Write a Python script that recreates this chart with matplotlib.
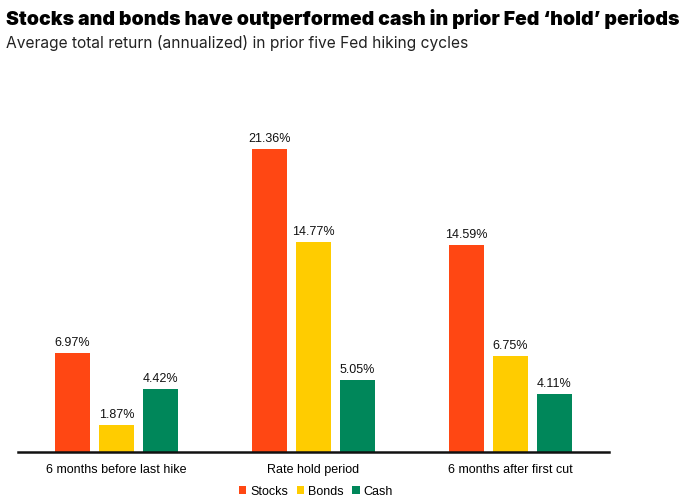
import matplotlib
matplotlib.use("Agg")
import matplotlib.pyplot as plt
import numpy as np

# chart data
periods = ["6 months before last hike", "Rate hold period", "6 months after first cut"]
series_names = ["Stocks", "Bonds", "Cash"]
stocks = [6.97, 21.36, 14.59]
bonds = [1.87, 14.77, 6.75]
cash = [4.42, 5.05, 4.11]
colors = ["#FF4713", "#FFCC00", "#00875A"]

plt.rcParams['font.family'] = ['Liberation Sans', 'DejaVu Sans']

fig = plt.figure(figsize=(6.98, 5.02), dpi=100)
ax = fig.add_axes([0.0258, 0.0976, 0.8467, 0.7824])

x = np.arange(len(periods))
width = 0.177
offset = 0.223

for i, (name, vals) in enumerate(zip(series_names, [stocks, bonds, cash])):
    bars = ax.bar(x + (i - 1) * offset, vals, width, color=colors[i], label=name)
    # value labels above each bar
    for b, v in zip(bars, vals):
        ax.text(b.get_x() + b.get_width() / 2, v + 0.35, f"{v:.2f}%",
                ha="center", va="bottom", fontsize=9, color="#111111")

ax.set_xlim(-0.5, 2.5)
ax.set_ylim(0, 27.65)
ax.set_xticks(x)
ax.set_xticklabels(periods, fontsize=9)
ax.tick_params(axis="x", length=0, pad=8)
ax.set_yticks([])
for side in ["top", "right", "left"]:
    ax.spines[side].set_visible(False)
ax.spines["bottom"].set_linewidth(1.8)
ax.spines["bottom"].set_color("#111111")

ax.legend(loc="center", bbox_to_anchor=(0.504, -0.1), ncol=3, frameon=False,
          fontsize=9, handlelength=0.6, handleheight=0.6, handletextpad=0.3,
          columnspacing=0.7)

fig.text(0.009, 0.962, "Stocks and bonds have outperformed cash in prior Fed \u2018hold\u2019 periods",
         fontsize=14.0, fontweight="black", family=["Inter", "DejaVu Sans"], va="center")
fig.text(0.009, 0.914, "Average total return (annualized) in prior five Fed hiking cycles",
         fontsize=11.2, fontweight="normal", family=["Inter", "DejaVu Sans"], va="center",
         color="#222222")

fig.savefig("out.png", dpi=100)
